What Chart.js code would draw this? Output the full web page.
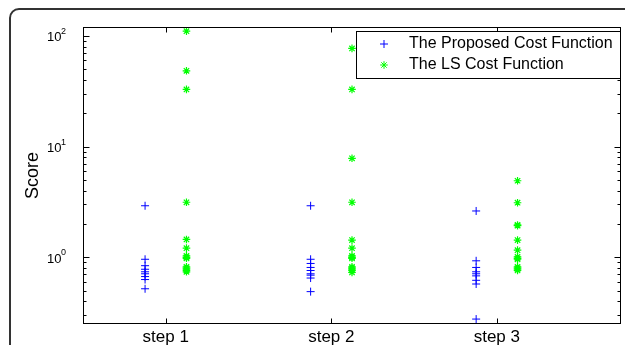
<!DOCTYPE html>
<html>
<head>
<meta charset="utf-8">
<script src="https://cdn.jsdelivr.net/npm/chart.js@4/dist/chart.umd.min.js"></script>
<style>
html,body{margin:0;padding:0;background:#fff;}
#wrap{width:625px;height:345px;position:relative;}
</style>
</head>
<body>
<div id="wrap"><canvas id="c" width="625" height="345"></canvas></div>
<script>
const categories = ["step 1", "step 2", "step 3"];
const seriesNames = ["The Proposed Cost Function", "The LS Cost Function"];
const proposed = [
  [2.92, 0.96, 0.84, 0.78, 0.74, 0.71, 0.67, 0.63, 0.52],
  [2.92, 0.96, 0.88, 0.81, 0.76, 0.71, 0.69, 0.65, 0.49],
  [2.62, 0.93, 0.81, 0.74, 0.71, 0.68, 0.62, 0.574, 0.277]
];
const ls = [
  [110, 48.3, 32.8, 3.14, 1.45, 1.21, 1.03, 1.0, 0.98, 0.82, 0.8, 0.78, 0.76, 0.74],
  [76.9, 32.8, 7.83, 3.14, 1.43, 1.21, 1.03, 1.0, 0.98, 0.82, 0.8, 0.78, 0.76, 0.73],
  [4.91, 3.11, 1.96, 1.93, 1.43, 1.16, 1.01, 0.98, 0.96, 0.82, 0.8, 0.78, 0.76]
];
const yMajorTicks = [1, 10, 100];
const yTickExponents = ["0", "1", "2"];
const yTitle = "Score";

function toPoints(groups, offset) {
  const pts = [];
  groups.forEach((vals, i) => vals.forEach(v => pts.push({x: i + 1 + offset, y: v})));
  return pts;
}

const FONT = '"Liberation Sans", Arial, Helvetica, sans-serif';

const decor = {
  id: 'decor',
  beforeDraw(chart) {
    const ctx = chart.ctx;
    ctx.save();
    ctx.fillStyle = '#fff';
    ctx.fillRect(0, 0, chart.width, chart.height);
    ctx.strokeStyle = '#333';
    ctx.lineWidth = 2;
    const x0 = 10, y0 = 9, r = 9;
    ctx.beginPath();
    ctx.moveTo(x0, chart.height + 10);
    ctx.lineTo(x0, y0 + r);
    ctx.arcTo(x0, y0, x0 + r, y0, r);
    ctx.lineTo(chart.width + 10, y0);
    ctx.stroke();
    ctx.restore();
  },
  afterDraw(chart) {
    const ctx = chart.ctx;
    const a = chart.chartArea;
    const xs = chart.scales.x, ys = chart.scales.y;
    ctx.save();
    ctx.strokeStyle = '#000';
    ctx.lineWidth = 1;
    const L = Math.round(a.left) + 0.5, R = Math.round(a.right) - 0.5;
    const T = Math.round(a.top) + 0.5, B = Math.round(a.bottom) - 0.5;
    ctx.strokeRect(L, T, R - L, B - T);
    ctx.beginPath();
    for (let k = -1; k <= 2; k++) {
      for (let m = 1; m <= 9; m++) {
        const v = m * Math.pow(10, k);
        if (v < ys.min || v > ys.max) continue;
        const py = Math.round(ys.getPixelForValue(v)) + 0.5;
        const len = (m === 1) ? 6 : 3;
        ctx.moveTo(L, py); ctx.lineTo(L + len, py);
        ctx.moveTo(R, py); ctx.lineTo(R - len, py);
      }
    }
    categories.forEach((c, i) => {
      const px = Math.round(xs.getPixelForValue(i + 1)) + 0.5;
      ctx.moveTo(px, B); ctx.lineTo(px, B - 5);
      ctx.moveTo(px, T); ctx.lineTo(px, T + 5);
    });
    ctx.stroke();

    ctx.fillStyle = '#000';
    ctx.font = '17px ' + FONT;
    ctx.textAlign = 'center';
    ctx.textBaseline = 'alphabetic';
    categories.forEach((c, i) => {
      ctx.fillText(c, xs.getPixelForValue(i + 1), B + 18);
    });
    yMajorTicks.forEach((v, i) => {
      const py = ys.getPixelForValue(v);
      ctx.font = '9px ' + FONT;
      ctx.textAlign = 'left';
      ctx.textBaseline = 'alphabetic';
      const expX = 61;
      ctx.fillText(yTickExponents[i], expX, py - 2);
      ctx.font = '13px ' + FONT;
      ctx.textAlign = 'right';
      ctx.fillText('10', expX + 0.5, py + 5.5);
    });
    ctx.save();
    ctx.translate(33, (a.top + a.bottom) / 2);
    ctx.rotate(-Math.PI / 2);
    ctx.font = '18px ' + FONT;
    ctx.textAlign = 'center';
    ctx.textBaseline = 'middle';
    ctx.fillText(yTitle, 0, 0);
    ctx.restore();

    const lx0 = 356, ly0 = 31, lx1 = Math.round(a.right) - 0.5, ly1 = 78;
    ctx.fillStyle = '#fff';
    ctx.fillRect(lx0, ly0, lx1 - lx0, ly1 - ly0);
    ctx.strokeStyle = '#000';
    ctx.lineWidth = 1;
    ctx.strokeRect(lx0 + 0.5, ly0 + 0.5, lx1 - lx0 - 0.5, ly1 - ly0);
    const rows = [44, 65];
    chart.data.datasets.forEach((ds, i) => {
      ctx.strokeStyle = ds.borderColor;
      ctx.fillStyle = ds.backgroundColor;
      ctx.lineWidth = 1;
      Chart.helpers.drawPoint(ctx, {pointStyle: ds.pointStyle, radius: ds.pointRadius, borderWidth: 1, rotation: 0}, 384, rows[i]);
      ctx.fillStyle = '#000';
      ctx.font = '16px ' + FONT;
      ctx.textAlign = 'left';
      ctx.textBaseline = 'middle';
      ctx.fillText(ds.label, 409, rows[i]);
    });
    ctx.restore();
  }
};

new Chart(document.getElementById('c'), {
  type: 'scatter',
  data: {
    datasets: [
      {
        label: seriesNames[0],
        data: toPoints(proposed, -0.125),
        pointStyle: 'cross', pointRadius: 4, borderColor: '#0000ff',
        backgroundColor: '#0000ff', borderWidth: 1, pointHoverRadius: 4
      },
      {
        label: seriesNames[1],
        data: toPoints(ls, 0.125),
        pointStyle: 'star', pointRadius: 3.8, borderColor: '#00ff00',
        backgroundColor: '#00ff00', borderWidth: 1.2, pointHoverRadius: 3.8
      }
    ]
  },
  options: {
    responsive: false,
    animation: false,
    events: [],
    layout: { autoPadding: false, padding: { left: 83, right: 4, top: 27, bottom: 21 } },
    plugins: { legend: { display: false }, tooltip: { enabled: false } },
    scales: {
      x: { type: 'linear', min: 0.5, max: 3.75, display: false },
      y: { type: 'logarithmic', min: 0.25, max: 120, display: false }
    }
  },
  plugins: [decor]
});
</script>
</body>
</html>
